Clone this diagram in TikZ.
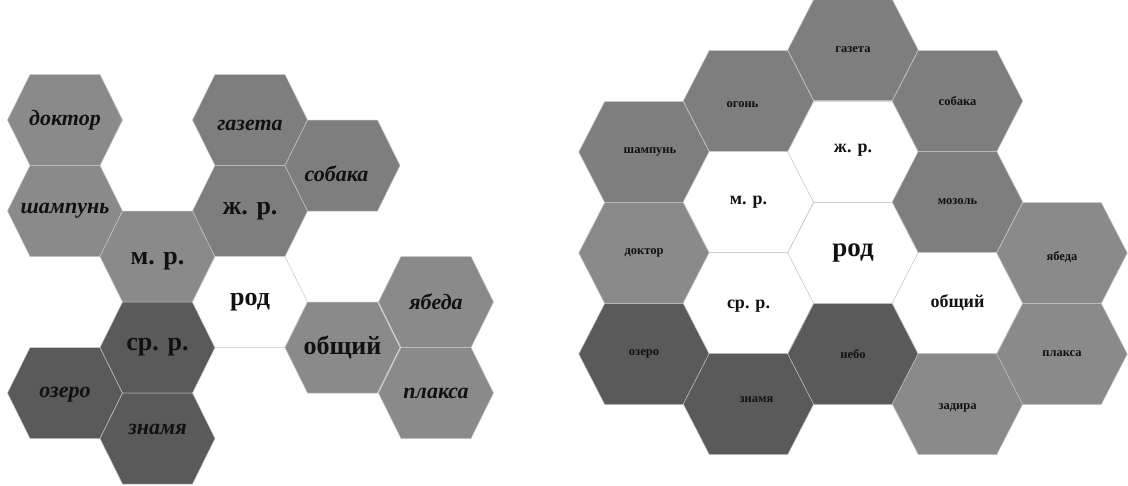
\documentclass[tikz,border=0pt]{standalone}
\usepackage{fontspec}
\setmainfont{Liberation Serif}
\definecolor{hexA}{HTML}{8A8A8A}
\definecolor{hexB}{HTML}{7E7E7E}
\definecolor{hexD}{HTML}{5A5A5A}
\definecolor{hexW}{HTML}{FFFFFF}
\definecolor{hexline}{HTML}{C4C4C4}
\definecolor{ink}{HTML}{111111}
\tikzset{
  hexedge/.style={draw=hexline, line width=0.5pt},
  wordL/.style={text=ink, font=\fontsize{22}{24}\selectfont\bfseries\itshape},
  catL/.style={text=ink, font=\fontsize{26}{28}\selectfont\bfseries},
  wordR/.style={text=ink, font=\fontsize{12.5}{14}\selectfont\bfseries},
  catR/.style={text=ink, font=\fontsize{18}{20}\selectfont\bfseries},
  rootR/.style={text=ink, font=\fontsize{27}{29}\selectfont\bfseries},
}
% #1 name, #2 x, #3 y, #4 fill, #5 label style, #6 text
\newcommand{\hexcell}[6]{%
  \filldraw[hexedge, fill=#4]
    (#2-\hw,#3) -- (#2-\hw+\ho,#3-\hh) -- (#2+\hw-\ho,#3-\hh) --
    (#2+\hw,#3) -- (#2+\hw-\ho,#3+\hh) -- (#2-\hw+\ho,#3+\hh) -- cycle;
  \node[#5] (#1) at (#2,#3) {#6};
}
\begin{document}
\begin{tikzpicture}[x=1pt,y=-1pt]
\useasboundingbox (0,0) rectangle (1128,485);
\fill[white] (0,0) rectangle (1128,485);
% ---------- left cluster ----------
\def\hw{57.5}\def\ho{22.5}\def\hh{45.5}
\hexcell{Ldoktor}{65}{120}{hexA}{wordL}{доктор}
\hexcell{Lshampun}{65}{211}{hexA}{wordL}{шампунь}
\hexcell{Lozero}{65}{393}{hexD}{wordL, yshift=-2pt}{озеро}
\hexcell{Lmr}{157.5}{256.5}{hexA}{catL, yshift=-5pt}{м. р.}
\hexcell{Lsr}{157.5}{347.5}{hexD}{catL}{ср. р.}
\hexcell{Lznamya}{157.5}{438.5}{hexD}{wordL, yshift=9pt}{знамя}
\hexcell{Lgazeta}{250}{120}{hexB}{wordL, yshift=-5pt}{газета}
\hexcell{Lzhr}{250}{211}{hexB}{catL}{ж. р.}
\hexcell{Lrod}{250}{302}{hexW}{catL}{род}
\hexcell{Lsobaka}{342.5}{165.5}{hexB}{wordL, xshift=-6pt, yshift=-8pt}{собака}
\hexcell{Lobsh}{342.5}{347.5}{hexA}{catL}{общий}
\hexcell{Lyabeda}{436}{302}{hexA}{wordL}{ябеда}
\hexcell{Lplaksa}{436}{393}{hexA}{wordL}{плакса}
% ---------- right cluster ----------
\def\hw{65.25}\def\ho{26}\def\hh{50.5}
\hexcell{Rshampun}{644}{152}{hexB}{wordR, xshift=6pt}{шампунь}
\hexcell{Rdoktor}{644}{253}{hexA}{wordR}{доктор}
\hexcell{Rozero}{644}{354}{hexD}{wordR}{озеро}
\hexcell{Rogon}{748.5}{101}{hexB}{wordR, xshift=-6pt, yshift=-4pt}{огонь}
\hexcell{Rmr}{748.5}{202}{hexW}{catR}{м. р.}
\hexcell{Rsr}{748.5}{303}{hexW}{catR, yshift=-3pt}{ср. р.}
\hexcell{Rznamya}{748.5}{404}{hexD}{wordR, xshift=8pt, yshift=4pt}{знамя}
\hexcell{Rgazeta}{853}{50}{hexB}{wordR}{газета}
\hexcell{Rzhr}{853}{152}{hexW}{catR, yshift=2pt}{ж. р.}
\hexcell{Rrod}{853}{253}{hexW}{rootR}{род}
\hexcell{Rnebo}{853}{354}{hexD}{wordR}{небо}
\hexcell{Rsobaka}{957.5}{101}{hexB}{wordR}{собака}
\hexcell{Rmozol}{957.5}{202}{hexB}{wordR}{мозоль}
\hexcell{Robsh}{957.5}{303}{hexW}{catR}{общий}
\hexcell{Rzadira}{957.5}{404}{hexA}{wordR, yshift=-4pt}{задира}
\hexcell{Ryabeda}{1062}{253}{hexA}{wordR, yshift=-4pt}{ябеда}
\hexcell{Rplaksa}{1062}{354}{hexA}{wordR}{плакса}
\end{tikzpicture}
\end{document}
